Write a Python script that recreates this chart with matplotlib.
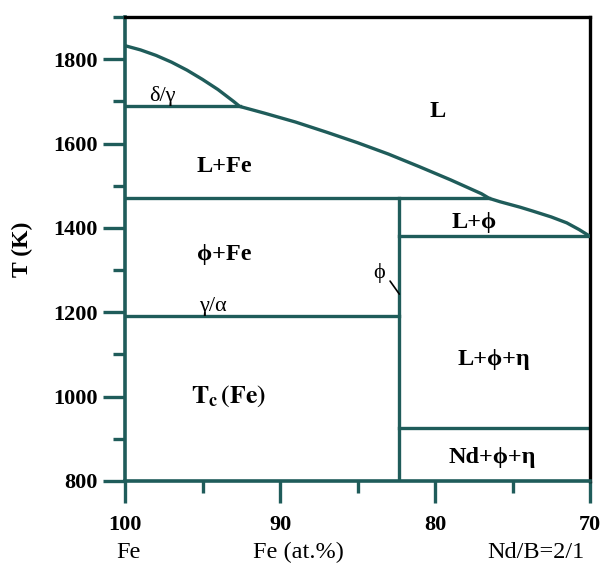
import matplotlib
matplotlib.use("Agg")
import matplotlib.pyplot as plt
from matplotlib.ticker import FixedLocator

# ---- data ----
liq_comp = [100, 99, 98, 97, 96, 95, 94, 93, 92.6, 91, 89, 87, 85, 83, 81, 79, 77, 76.5,
            75.8, 74.5, 73.7, 72.5, 71.5, 70.7, 70]
liq_T = [1832, 1822, 1809, 1793, 1774, 1752, 1728, 1700, 1688, 1672, 1651, 1627, 1602, 1575,
         1545, 1514, 1481, 1470, 1462, 1449, 1440, 1426, 1412, 1396, 1380]

phi_comp = 82.3          # composition of the phi phase line
T_delta_gamma = 1688     # delta/gamma horizontal
T_peritectic = 1470      # L+Fe / phi+Fe boundary
T_L_phi = 1380           # L+phi lower boundary
T_gamma_alpha = 1190     # gamma/alpha
T_Nd = 925               # L+phi+eta / Nd+phi+eta

x_major = [100, 90, 80, 70]
x_minor = [95, 85, 75]
y_major = [800, 1000, 1200, 1400, 1600, 1800]
y_minor = [900, 1100, 1300, 1500, 1700, 1900]

region_labels = ["L", "L+Fe", "L+\u03d5", "\u03d5+Fe", "L+\u03d5+\u03b7", "Nd+\u03d5+\u03b7"]
region_x = [79.8, 93.6, 77.5, 93.6, 76.2, 76.3]
region_y = [1676, 1545, 1414, 1338, 1088, 855]

teal = "#1f5c5a"
serif = ["Liberation Serif", "DejaVu Serif"]
plt.rcParams["font.family"] = serif
plt.rcParams["mathtext.fontset"] = "stix"

fig = plt.figure(figsize=(6.03, 5.65), dpi=100)
ax = fig.add_axes([125 / 603, 1 - 481 / 565, (590 - 125) / 603, (481 - 17) / 565])
ax.set_xlim(100, 70)
ax.set_ylim(800, 1900)

lw = 2.4
# liquidus
ax.plot(liq_comp, liq_T, color=teal, lw=lw, solid_joinstyle="round", zorder=3)
# horizontal boundaries
ax.plot([100, 92.6], [T_delta_gamma, T_delta_gamma], color=teal, lw=lw)
ax.plot([100, 76.5], [T_peritectic, T_peritectic], color=teal, lw=lw)
ax.plot([phi_comp, 70], [T_L_phi, T_L_phi], color=teal, lw=lw)
ax.plot([100, phi_comp], [T_gamma_alpha, T_gamma_alpha], color=teal, lw=lw)
ax.plot([phi_comp, 70], [T_Nd, T_Nd], color=teal, lw=lw)
# vertical phi line
ax.plot([phi_comp, phi_comp], [800, T_peritectic], color=teal, lw=lw)

# spines
for s in ["left", "bottom"]:
    ax.spines[s].set_color(teal)
    ax.spines[s].set_linewidth(2.6)
for s in ["top", "right"]:
    ax.spines[s].set_color("black")
    ax.spines[s].set_linewidth(2.4)

ax.xaxis.set_major_locator(FixedLocator(x_major))
ax.xaxis.set_minor_locator(FixedLocator(x_minor))
ax.yaxis.set_major_locator(FixedLocator(y_major))
ax.yaxis.set_minor_locator(FixedLocator(y_minor))
ax.tick_params(which="major", direction="out", length=15.5, width=2.4, color=teal)
ax.tick_params(which="minor", direction="out", length=8.5, width=2.4, color=teal)
ax.tick_params(axis="x", which="major", pad=9)
ax.tick_params(axis="y", which="major", pad=4)
ax.set_xticklabels([str(v) for v in x_major], fontweight="bold", fontsize=16)
ax.set_yticklabels([str(v) for v in y_major], fontweight="bold", fontsize=16)

# region labels
for t, x, y in zip(region_labels, region_x, region_y):
    ax.text(x, y, t, fontsize=17.5, fontweight="bold", ha="center", va="center")
ax.text(93.3, 1000, r"$\mathbf{T_c\,(Fe)}$", fontsize=18.5, ha="center", va="center")
ax.text(97.6, 1712, "\u03b4/\u03b3", fontsize=16, ha="center", va="center")
ax.text(94.3, 1214, "\u03b3/\u03b1", fontsize=16, ha="center", va="center")
ax.text(83.6, 1293, "\u03d5", fontsize=16, ha="center", va="center")
ax.annotate("", xy=(82.3, 1243), xytext=(82.9, 1274),
            arrowprops=dict(arrowstyle="-", color="black", lw=1.2, shrinkA=0, shrinkB=0))

# axis labels
fig.text(22 / 603, 1 - 249 / 565, "T (K)", rotation=90, fontsize=17, fontweight="bold",
         ha="center", va="center")
fig.text(128 / 603, 1 - 558 / 565, "Fe", fontsize=17.5, ha="center", va="baseline")
fig.text(298 / 603, 1 - 558 / 565, "Fe (at.%)", fontsize=17.5, ha="center", va="baseline")
fig.text(536 / 603, 1 - 558 / 565, "Nd/B=2/1", fontsize=17.5, ha="center", va="baseline")

fig.savefig("out.png", dpi=100)
